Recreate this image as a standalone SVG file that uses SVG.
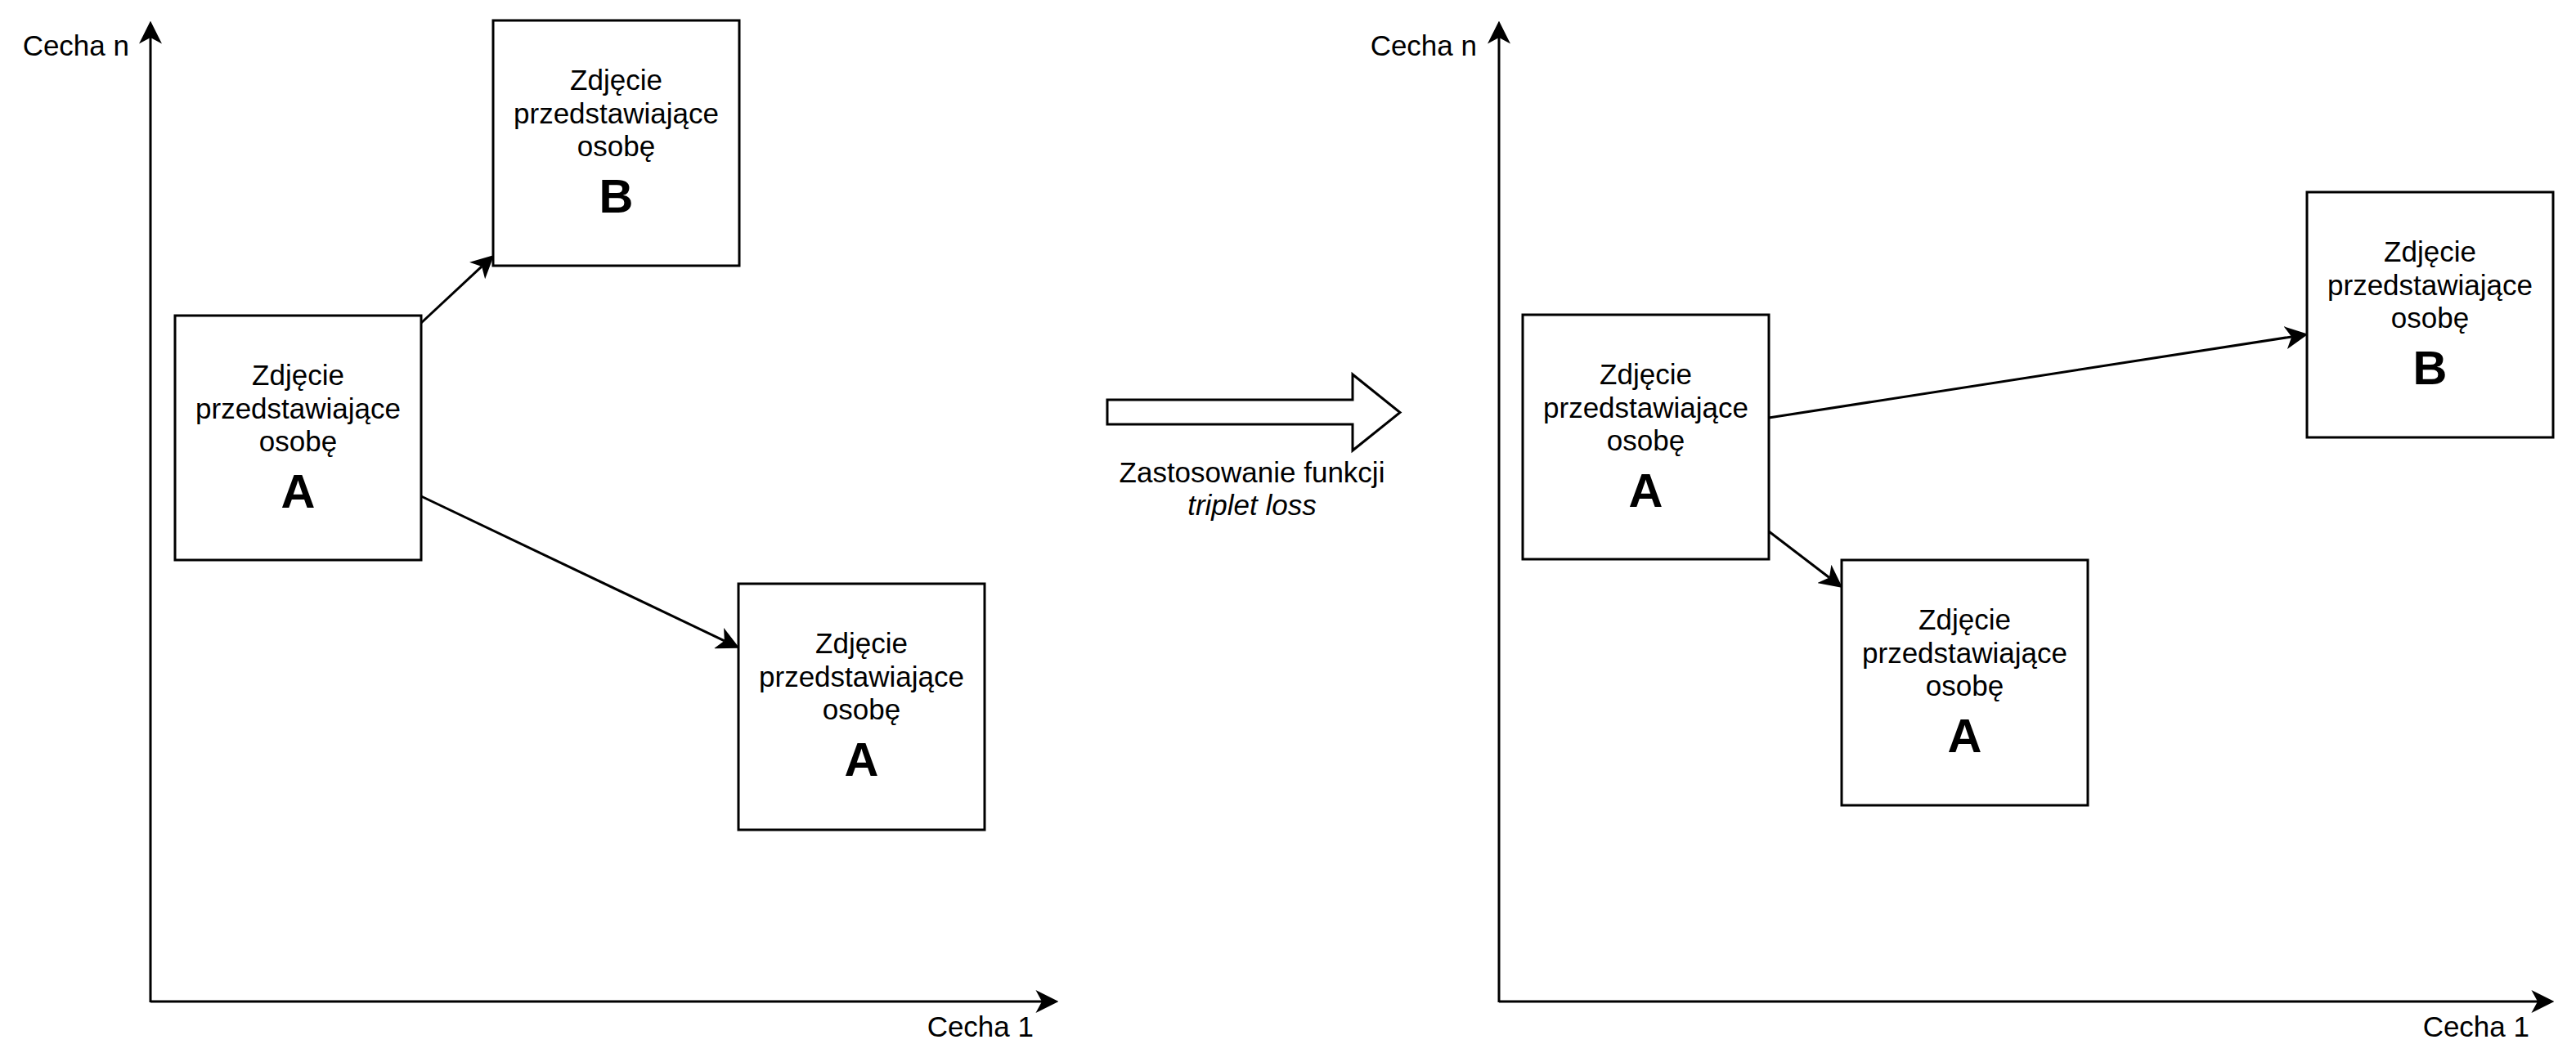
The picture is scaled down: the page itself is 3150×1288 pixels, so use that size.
<svg xmlns="http://www.w3.org/2000/svg" width="3150" height="1288" viewBox="0 0 3150 1288">
<style>
  .box { fill: #ffffff; stroke: #000000; stroke-width: 3; }
  .t { font-family: "Liberation Sans", Arial, sans-serif; font-size: 35px; fill: #000000; }
  .c { text-anchor: middle; }
  .big { font-family: "Liberation Sans", Arial, sans-serif; font-size: 58px; font-weight: bold; fill: #000000; text-anchor: middle; }
  .edge { fill: none; stroke: #000000; stroke-width: 3; marker-end: url(#arrow); }
  .axis { fill: none; stroke: #000000; stroke-width: 3; marker-end: url(#arrow); }
</style>
<defs>
  <marker id="arrow" markerUnits="userSpaceOnUse" markerWidth="28" markerHeight="28" viewBox="0 0 26 26" refX="7" refY="13" orient="auto">
    <path d="M26,13 L0,0 L7,13 L0,26 Z" fill="#000000" stroke="none"/>
  </marker>
</defs>
<rect width="3150" height="1288" fill="#ffffff"/>

<g id="connectors">
  <line class="axis" x1="184" y1="1226" x2="184" y2="46"/>
  <line class="axis" x1="184" y1="1225" x2="1274" y2="1225"/>
  <line class="axis" x1="1833" y1="1226" x2="1833" y2="46"/>
  <line class="axis" x1="1833" y1="1225" x2="3103" y2="1225"/>
  <line class="edge" x1="515" y1="395" x2="589.1" y2="325.95"/>
  <line class="edge" x1="515" y1="607" x2="885.85" y2="783.82"/>
  <line class="edge" x1="2163" y1="511" x2="2802.23" y2="411.91"/>
  <line class="edge" x1="2163" y1="650" x2="2236.9" y2="706.47"/>
</g>

<g id="axis-labels">
  <text class="t" x="158" y="68" text-anchor="end">Cecha n</text>
  <text class="t" x="1264" y="1268" text-anchor="end">Cecha 1</text>
  <text class="t" x="1806" y="68" text-anchor="end">Cecha n</text>
  <text class="t" x="3093" y="1268" text-anchor="end">Cecha 1</text>
</g>

<g id="left-A">
  <rect class="box" x="214" y="386" width="301" height="299"/>
  <text class="t c" x="364.5" y="471">Zdjęcie</text>
  <text class="t c" x="364.5" y="512">przedstawiające</text>
  <text class="t c" x="364.5" y="552">osobę</text>
  <text class="big" x="364.5" y="621">A</text>
</g>

<g id="left-B">
  <rect class="box" x="603" y="25" width="301" height="300"/>
  <text class="t c" x="753.5" y="110">Zdjęcie</text>
  <text class="t c" x="753.5" y="151">przedstawiające</text>
  <text class="t c" x="753.5" y="191">osobę</text>
  <text class="big" x="753.5" y="260">B</text>
</g>

<g id="left-A2">
  <rect class="box" x="903" y="714" width="301" height="301"/>
  <text class="t c" x="1053.5" y="799">Zdjęcie</text>
  <text class="t c" x="1053.5" y="840">przedstawiające</text>
  <text class="t c" x="1053.5" y="880">osobę</text>
  <text class="big" x="1053.5" y="949">A</text>
</g>

<g id="transform-arrow">
  <polygon points="1354,489 1654,489 1654,458 1712,504.5 1654,551 1654,519 1354,519" fill="#ffffff" stroke="#000000" stroke-width="3" stroke-linejoin="miter"/>
  <text class="t c" x="1531" y="590">Zastosowanie funkcji</text>
  <text class="t c" x="1531" y="630" font-style="italic">triplet loss</text>
</g>

<g id="right-A">
  <rect class="box" x="1862" y="385" width="301" height="299"/>
  <text class="t c" x="2012.5" y="470">Zdjęcie</text>
  <text class="t c" x="2012.5" y="511">przedstawiające</text>
  <text class="t c" x="2012.5" y="551">osobę</text>
  <text class="big" x="2012.5" y="620">A</text>
</g>

<g id="right-B">
  <rect class="box" x="2821" y="235" width="301" height="300"/>
  <text class="t c" x="2971.5" y="320">Zdjęcie</text>
  <text class="t c" x="2971.5" y="361">przedstawiające</text>
  <text class="t c" x="2971.5" y="401">osobę</text>
  <text class="big" x="2971.5" y="470">B</text>
</g>

<g id="right-A2">
  <rect class="box" x="2252" y="685" width="301" height="300"/>
  <text class="t c" x="2402.5" y="770">Zdjęcie</text>
  <text class="t c" x="2402.5" y="811">przedstawiające</text>
  <text class="t c" x="2402.5" y="851">osobę</text>
  <text class="big" x="2402.5" y="920">A</text>
</g>
</svg>
